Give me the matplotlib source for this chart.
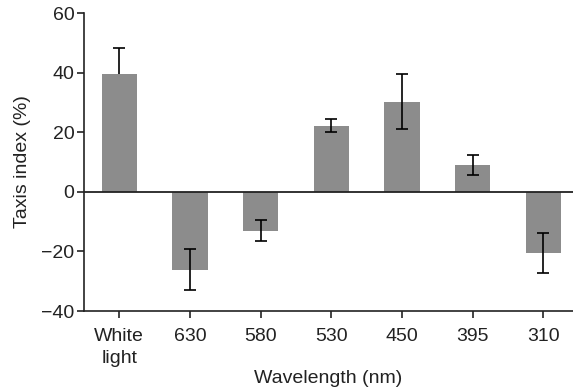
import matplotlib
matplotlib.use("Agg")
import matplotlib.pyplot as plt

# ── Data ───────────────────────────────────────────────────────────────
categories = ["White\nlight", "630", "580", "530", "450", "395", "310"]
taxis_index = [39.5, -26.2, -13.0, 22.2, 30.3, 9.0, -20.6]
sem = [8.7, 6.9, 3.6, 2.2, 9.1, 3.3, 6.7]

BAR_COLOR = "#8c8c8c"
INK = "#222222"

plt.rcParams["font.family"] = ["Liberation Sans", "DejaVu Sans"]

fig = plt.figure(figsize=(5.73, 3.88), dpi=100)
ax = fig.add_axes([84 / 573, 1 - 311 / 388, 1 - 84 / 573, (311 - 13) / 388])

x = list(range(len(categories)))
ax.bar(x, taxis_index, width=0.5, color=BAR_COLOR, zorder=2)
# white light: lower half of the error bar sits behind its bar
ax.errorbar(x[:1], taxis_index[:1], yerr=sem[:1], fmt="none", ecolor="black",
            elinewidth=1.2, capsize=4, capthick=1.2, zorder=1)
ax.errorbar(x[1:], taxis_index[1:], yerr=sem[1:], fmt="none", ecolor="black",
            elinewidth=1.2, capsize=4, capthick=1.2, zorder=3)

# zero line
ax.axhline(0, color=INK, linewidth=1.3, zorder=4)

ax.set_xlim(-0.5, 6.42)
ax.set_ylim(-40, 60)
ax.set_yticks([-40, -20, 0, 20, 40, 60])
ax.set_yticklabels(["\u221240", "\u221220", "0", "20", "40", "60"])
ax.set_xticks(x)
ax.set_xticklabels(categories, linespacing=1.4)

for side in ["top", "right"]:
    ax.spines[side].set_visible(False)
for side in ["left", "bottom"]:
    ax.spines[side].set_linewidth(1.2)
    ax.spines[side].set_color(INK)

ax.tick_params(axis="both", labelsize=14, length=5, width=1.2,
               color=INK, labelcolor=INK)
ax.tick_params(axis="x", pad=7)
ax.tick_params(axis="y", pad=2)

ax.set_ylabel("Taxis index (%)", fontsize=14, color=INK, labelpad=7)
ax.set_xlabel("Wavelength (nm)", fontsize=14, color=INK, labelpad=2)

fig.savefig("out.png", dpi=100)
